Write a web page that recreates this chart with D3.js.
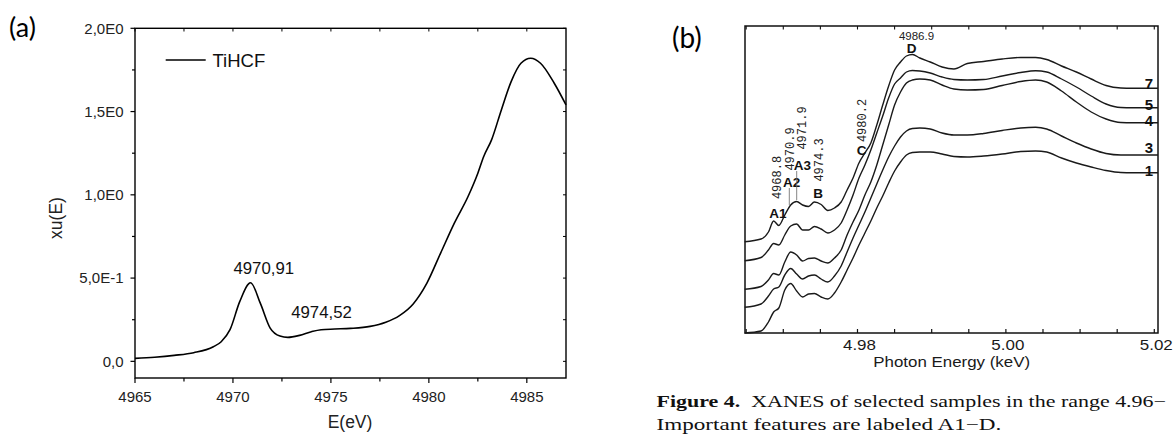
<!DOCTYPE html>
<html><head><meta charset="utf-8">
<script src="https://cdn.jsdelivr.net/npm/d3@7"></script>
<style>body{margin:0;background:#fff} svg{display:block}</style>
</head><body>
<svg id="chart" width="1176" height="434"></svg>
<script>
// ---------- Panel (a) data ----------
const energyA = [4965, 4966, 4967, 4968, 4969.0, 4969.4, 4969.85, 4970.35, 4970.9, 4971.4, 4971.9, 4972.4, 4972.8, 4973.4, 4974.0, 4974.5, 4975.2, 4976.0, 4977.0, 4977.8, 4978.5, 4979.2, 4979.9, 4980.6, 4981.3, 4982.0, 4982.5, 4982.8, 4983.2, 4983.7, 4984.2, 4984.7, 4985.2, 4985.7, 4986.4, 4987];
const muA     = [0.018, 0.025, 0.036, 0.052, 0.088, 0.118, 0.19, 0.36, 0.472, 0.348, 0.2, 0.152, 0.144, 0.156, 0.178, 0.19, 0.194, 0.198, 0.21, 0.235, 0.275, 0.345, 0.47, 0.65, 0.83, 0.99, 1.13, 1.23, 1.33, 1.51, 1.68, 1.79, 1.82, 1.79, 1.67, 1.54];
const xTicksA = [4965, 4970, 4975, 4980, 4985];
const yTicksA = [0, 0.5, 1.0, 1.5, 2.0];
const yTickLabelsA = ["0,0", "5,0E-1", "1,0E0", "1,5E0", "2,0E0"];
const seriesNameA = "TiHCF";
const peakEnergiesA = [4970.91, 4974.52];
const peakLabelsA = ["4970,91", "4974,52"];

// ---------- Panel (b) data ----------
const energyB = [4964.8, 4967.0, 4968.0, 4968.7, 4969.4, 4970.2, 4971.0, 4971.8, 4972.6, 4973.4, 4974.2, 4975.1, 4976.0, 4976.9, 4977.8, 4978.6, 4979.4, 4980.2, 4981.0, 4981.8, 4982.6, 4983.4, 4984.2, 4985.0, 4985.8, 4986.6, 4987.4, 4988.4, 4989.8, 4991.4, 4993.0, 4994.8, 4997.0, 4999.5, 5002.0, 5004.0, 5005.5, 5007.5, 5009.5, 5011.5, 5013.5, 5015.5, 5017.0, 5018.5, 5020.5];
const curve7 = [0.913, 0.94, 1.01, 1.12, 1.075, 1.18, 1.28, 1.315, 1.28, 1.265, 1.31, 1.285, 1.225, 1.25, 1.31, 1.43, 1.55, 1.70, 1.80, 1.90, 2.08, 2.28, 2.47, 2.63, 2.71, 2.77, 2.785, 2.75, 2.71, 2.66, 2.64, 2.695, 2.715, 2.74, 2.755, 2.755, 2.735, 2.67, 2.61, 2.54, 2.475, 2.45, 2.447, 2.447, 2.447];
const curve5 = [0.723, 0.755, 0.83, 0.895, 0.88, 0.98, 1.07, 1.09, 1.03, 1.03, 1.065, 1.04, 1.00, 1.03, 1.10, 1.23, 1.38, 1.55, 1.68, 1.83, 2.00, 2.17, 2.35, 2.49, 2.55, 2.61, 2.625, 2.62, 2.60, 2.56, 2.535, 2.53, 2.535, 2.57, 2.605, 2.623, 2.61, 2.54, 2.46, 2.37, 2.29, 2.255, 2.253, 2.253, 2.253];
const curve4 = [0.437, 0.465, 0.53, 0.595, 0.58, 0.71, 0.81, 0.78, 0.72, 0.745, 0.75, 0.72, 0.70, 0.75, 0.83, 0.98, 1.11, 1.23, 1.38, 1.51, 1.68, 1.88, 2.08, 2.28, 2.41, 2.50, 2.53, 2.54, 2.53, 2.48, 2.44, 2.43, 2.435, 2.475, 2.515, 2.53, 2.51, 2.42, 2.31, 2.21, 2.14, 2.105, 2.103, 2.103, 2.103];
const curve3 = [0.257, 0.29, 0.37, 0.44, 0.46, 0.58, 0.645, 0.59, 0.54, 0.57, 0.58, 0.54, 0.51, 0.57, 0.67, 0.81, 0.95, 1.08, 1.21, 1.35, 1.49, 1.63, 1.76, 1.87, 1.96, 2.02, 2.045, 2.05, 2.04, 2.00, 1.98, 1.98, 1.995, 2.025, 2.05, 2.057, 2.04, 1.97, 1.90, 1.84, 1.795, 1.78, 1.78, 1.78, 1.78];
const curve1 = [0.0, 0.02, 0.11, 0.21, 0.25, 0.43, 0.495, 0.42, 0.36, 0.39, 0.395, 0.36, 0.34, 0.40, 0.51, 0.63, 0.75, 0.88, 1.00, 1.12, 1.25, 1.37, 1.50, 1.62, 1.71, 1.78, 1.805, 1.81, 1.81, 1.79, 1.765, 1.76, 1.77, 1.79, 1.815, 1.82, 1.81, 1.75, 1.70, 1.66, 1.625, 1.605, 1.603, 1.603, 1.603];
const curveNames = ["7", "5", "4", "3", "1"];
const xTicksB = [4980, 5000, 5020];
const xMinorTicksB = [4965, 4970, 4975, 4985, 4990, 4995, 5005, 5010, 5015];
const featureNames = ["A1", "A2", "A3", "B", "C", "D"];
const featureEnergies = ["4968.8", "4970.9", "4971.9", "4974.3", "4980.2", "4986.9"];
const captionBold = "Figure 4.";
const captionLine1 = "\u00a0 XANES of selected samples in the range 4.96\u2212";
const captionLine2 = "Important features are labeled A1\u2212D.";

const svg = d3.select("#chart");
const sans = "'Liberation Sans', Arial, sans-serif";

// stretch a text horizontally so it spans the given width, anchored at x0 (left) or its centre
function fitWidth(sel, x0, target) {
  const w = sel.node().getComputedTextLength();
  const s = target / w;
  sel.attr("transform", `translate(${x0},0) scale(${s},1) translate(${-x0},0)`);
}

// ================= Panel (a) =================
{
  const x = d3.scaleLinear().domain([4965, 4987]).range([135, 566]);
  const y = d3.scaleLinear().domain([-0.1, 2.0]).range([378, 28.3]);
  const g = svg.append("g");

  g.append("rect").attr("x", 135).attr("y", 28.3).attr("width", 431).attr("height", 378 - 28.3)
    .attr("fill", "none").attr("stroke", "#000").attr("stroke-width", 1.4);

  const xMinor = d3.range(4965, 4987.01, 2.5);
  const yMinor = d3.range(0, 2.001, 0.25);
  g.selectAll(".bt").data(xMinor).join("line")
    .attr("x1", d => x(d)).attr("x2", d => x(d)).attr("y1", 378)
    .attr("y2", d => 378 + (xTicksA.includes(d) ? 5 : 3.5)).attr("stroke", "#000").attr("stroke-width", 1.2);
  g.selectAll(".tt").data(xMinor).join("line")
    .attr("x1", d => x(d)).attr("x2", d => x(d)).attr("y1", 28.3).attr("y2", 31.5)
    .attr("stroke", "#000").attr("stroke-width", 1);
  g.selectAll(".lt").data(yMinor).join("line")
    .attr("y1", d => y(d)).attr("y2", d => y(d)).attr("x1", 135)
    .attr("x2", d => 135 - (yTicksA.includes(d) ? 4.5 : 3)).attr("stroke", "#000").attr("stroke-width", 1.2);
  g.selectAll(".rt").data(yMinor).join("line")
    .attr("y1", d => y(d)).attr("y2", d => y(d)).attr("x1", 566).attr("x2", 563)
    .attr("stroke", "#000").attr("stroke-width", 1);

  g.selectAll(".xl").data(xTicksA).join("text")
    .attr("x", d => x(d)).attr("y", 402).attr("text-anchor", "middle")
    .attr("font-family", sans).attr("font-size", 15).attr("fill", "#222").text(d => d);
  g.selectAll(".yl").data(yTicksA).join("text")
    .attr("x", 123.5).attr("y", d => y(d)).attr("dy", "0.36em").attr("text-anchor", "end")
    .attr("font-family", sans).attr("font-size", 15).attr("fill", "#222").text((d, i) => yTickLabelsA[i]);

  g.append("text").attr("x", 350).attr("y", 428).attr("text-anchor", "middle")
    .attr("font-family", sans).attr("font-size", 17.5).attr("fill", "#222").text("E(eV)");
  g.append("text").attr("transform", "translate(62,218) rotate(-90)").attr("text-anchor", "middle")
    .attr("font-family", sans).attr("font-size", 17.5).attr("fill", "#222").text("xu(E)");

  const line = d3.line().x((d, i) => x(energyA[i])).y(d => y(d)).curve(d3.curveMonotoneX);
  g.append("path").datum(muA).attr("d", line).attr("fill", "none")
    .attr("stroke", "#000").attr("stroke-width", 1.6);

  g.append("line").attr("x1", 165.7).attr("x2", 205.7).attr("y1", 60).attr("y2", 60)
    .attr("stroke", "#000").attr("stroke-width", 1.4);
  g.append("text").attr("x", 212.5).attr("y", 66.6).attr("font-family", sans)
    .attr("font-size", 18.5).attr("fill", "#111").text(seriesNameA);

  const interp = e => {
    const i = d3.bisectLeft(energyA, e);
    if (i <= 0) return muA[0];
    const t = (e - energyA[i - 1]) / (energyA[i] - energyA[i - 1]);
    return muA[i - 1] + t * (muA[i] - muA[i - 1]);
  };
  const offs = [[13, -9], [0, -12]];
  g.selectAll(".pk").data(peakEnergiesA).join("text")
    .attr("x", (d, i) => x(d) + offs[i][0]).attr("y", (d, i) => y(interp(d)) + offs[i][1])
    .attr("text-anchor", "middle").attr("font-family", sans).attr("font-size", 16.8)
    .attr("fill", "#111").text((d, i) => peakLabelsA[i]);

  svg.append("text").attr("x", 9).attr("y", 37).attr("font-family", "Lato, 'Open Sans', sans-serif")
    .attr("font-size", 27).attr("fill", "#000").text("(a)");
}

// ================= Panel (b) =================
{
  const L = 745, R = 1158, T = 26, B = 333;
  const x = d3.scaleLinear().domain([4964.84, 5020.5]).range([L, R]);
  const y = d3.scaleLinear().domain([0, 3.07]).range([B, T]);
  const g = svg.append("g");

  g.append("rect").attr("x", L).attr("y", T).attr("width", R - L).attr("height", B - T)
    .attr("fill", "none").attr("stroke", "#111").attr("stroke-width", 1.5);

  const allTicks = xTicksB.concat(xMinorTicksB);
  g.selectAll(".bt").data(allTicks).join("line")
    .attr("x1", d => x(d)).attr("x2", d => x(d)).attr("y1", B).attr("y2", B - 4)
    .attr("stroke", "#111").attr("stroke-width", 1.2);
  g.selectAll(".tt").data(allTicks).join("line")
    .attr("x1", d => x(d)).attr("x2", d => x(d)).attr("y1", T).attr("y2", T + 3.5)
    .attr("stroke", "#111").attr("stroke-width", 1.1);

  g.selectAll(".xl").data(xTicksB).join("text")
    .attr("x", d => x(d) + 2).attr("y", 350).attr("text-anchor", "middle")
    .attr("font-family", sans).attr("font-size", 15).attr("fill", "#1a1a1a")
    .attr("textLength", 33).attr("lengthAdjust", "spacingAndGlyphs")
    .text(d => (d / 1000).toFixed(2));
  const xt = g.append("text").attr("x", 951.7).attr("y", 367).attr("text-anchor", "middle")
    .attr("font-family", sans).attr("font-size", 15).attr("fill", "#1a1a1a").text("Photon Energy (keV)");
  fitWidth(xt, 951.7, 157);

  const curves = [curve7, curve5, curve4, curve3, curve1];
  const line = d3.line().x((d, i) => x(energyB[i])).y(d => y(d)).curve(d3.curveMonotoneX);
  g.selectAll(".cv").data(curves).join("path").attr("d", line).attr("fill", "none")
    .attr("stroke", "#1a1a1a").attr("stroke-width", 1.4);

  const labOff = [1, 2.5, 3.5, -2, 3.5];
  g.selectAll(".cl").data(curves).join("text")
    .attr("x", 1149).attr("y", (d, i) => y(d[d.length - 1]) + labOff[i])
    .attr("text-anchor", "middle").attr("font-family", sans).attr("font-weight", "bold")
    .attr("font-size", 15).attr("fill", "#111").text((d, i) => curveNames[i]);

  const letterPos = [[778, 218], [791.7, 187], [802.5, 170], [818, 198], [861.7, 155], [911.7, 53]];
  g.selectAll(".fl").data(featureNames).join("text")
    .attr("x", (d, i) => letterPos[i][0]).attr("y", (d, i) => letterPos[i][1])
    .attr("text-anchor", "middle").attr("font-family", sans).attr("font-weight", "bold")
    .attr("font-size", 13.5).attr("fill", "#111").text(d => d);

  const rotPos = [[781, 177.5], [793.5, 149], [806, 128], [822.5, 160], [866, 120.5]];
  g.selectAll(".fe").data(featureEnergies.slice(0, 5)).join("text")
    .attr("transform", (d, i) => `translate(${rotPos[i][0]},${rotPos[i][1]}) rotate(-90)`)
    .attr("text-anchor", "middle").attr("font-family", "'Liberation Mono', monospace")
    .attr("font-size", 12).attr("fill", "#222").text(d => d);
  g.append("text").attr("x", 916.5).attr("y", 40).attr("text-anchor", "middle")
    .attr("font-family", sans).attr("font-size", 11.5).attr("fill", "#222").text(featureEnergies[5]);

  g.append("line").attr("x1", 789.3).attr("x2", 789.3).attr("y1", 188).attr("y2", 205)
    .attr("stroke", "#666").attr("stroke-width", 0.8);
  g.append("line").attr("x1", 796.7).attr("x2", 796.7).attr("y1", 171).attr("y2", 200)
    .attr("stroke", "#666").attr("stroke-width", 0.8);

  svg.append("text").attr("x", 672).attr("y", 48).attr("font-family", "Lato, 'Open Sans', sans-serif")
    .attr("font-size", 28).attr("fill", "#000").text("(b)");

  // caption (scanned text is stretched horizontally; line 1 is justified)
  const serif = "'Liberation Serif', 'Times New Roman', serif";
  const cap = svg.append("text").attr("x", 656.5).attr("y", 407.5)
    .attr("font-family", serif).attr("font-size", 17).attr("fill", "#111");
  cap.append("tspan").attr("font-weight", "bold").text(captionBold);
  cap.append("tspan").text(captionLine1);
  fitWidth(cap, 656.5, 510);
  const cap2 = svg.append("text").attr("x", 656.5).attr("y", 430)
    .attr("font-family", serif).attr("font-size", 17).attr("fill", "#111").text(captionLine2);
  fitWidth(cap2, 656.5, 345);
}
</script>
</body></html>
